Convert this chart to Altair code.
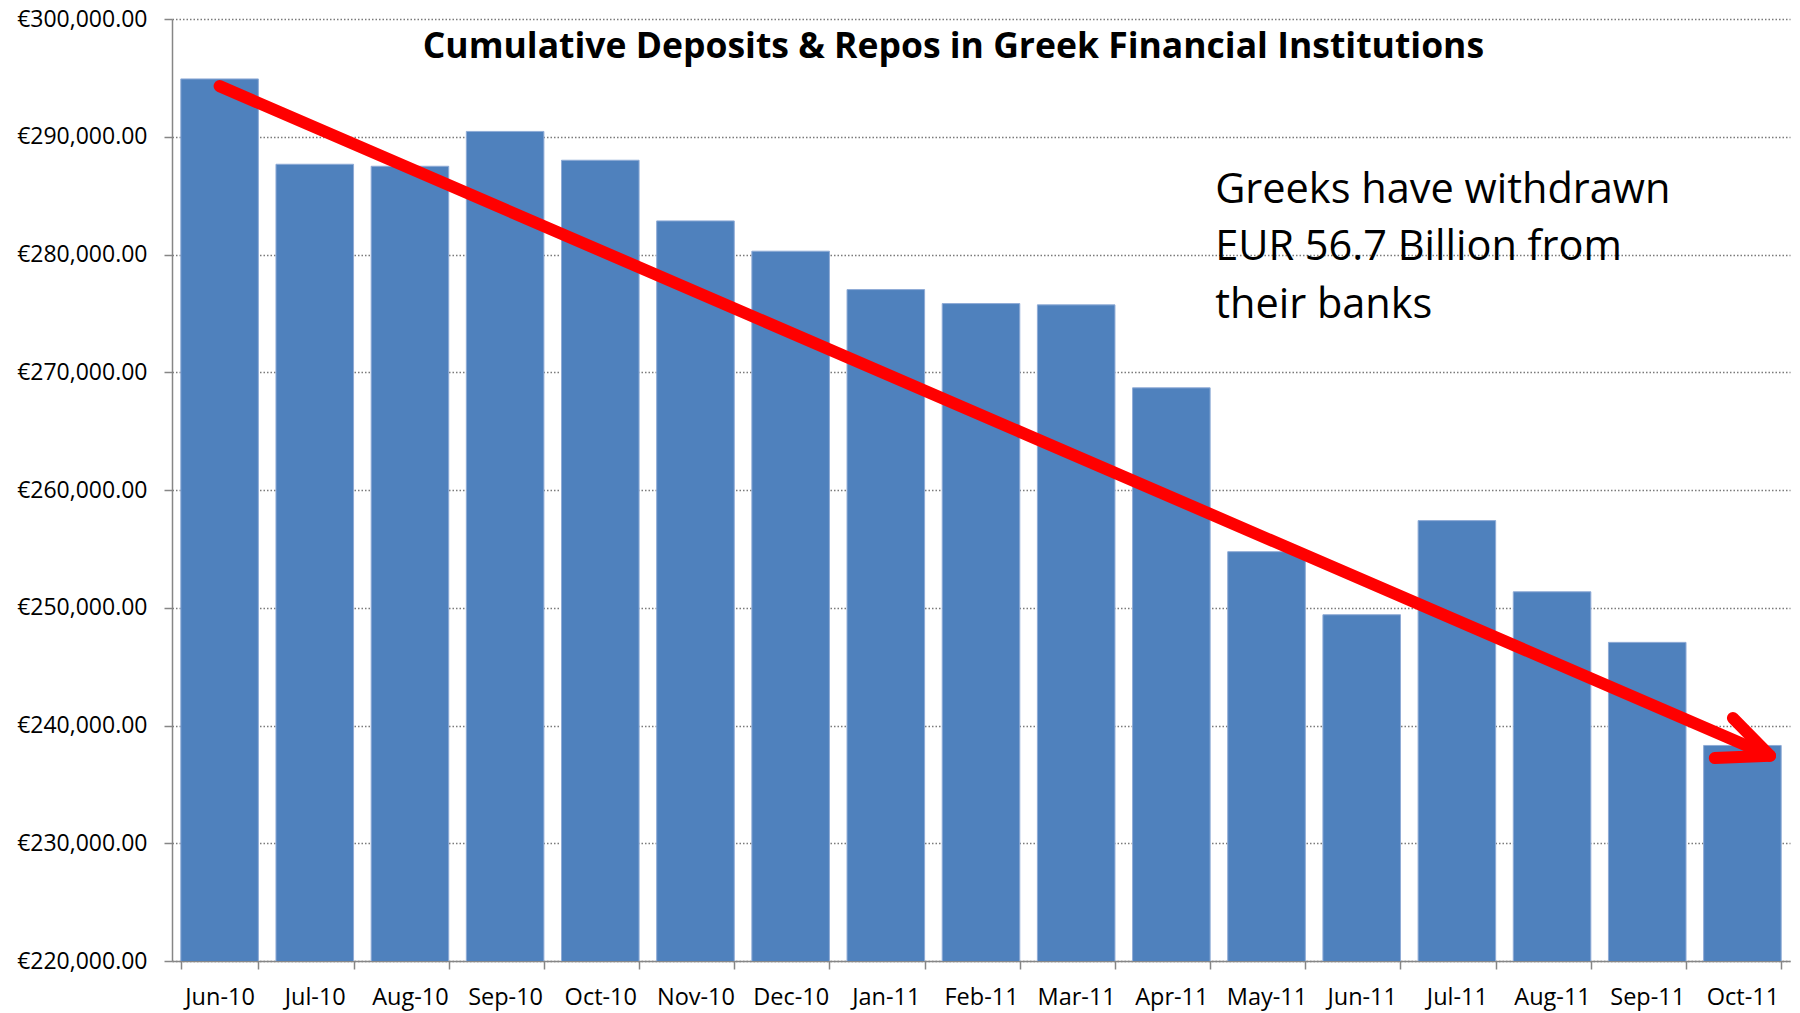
import altair as alt
import pandas as pd

# ---- data ----
months = ["Jun-10", "Jul-10", "Aug-10", "Sep-10", "Oct-10", "Nov-10", "Dec-10",
          "Jan-11", "Feb-11", "Mar-11", "Apr-11", "May-11", "Jun-11", "Jul-11",
          "Aug-11", "Sep-11", "Oct-11"]
deposits = [294910, 287664, 287494, 290452, 288005, 282852, 280280,
            277020, 275832, 275722, 268676, 254762, 249406, 257400,
            251356, 247060, 238305]
y_ticks = [220000, 230000, 240000, 250000, 260000, 270000, 280000, 290000, 300000]

title_text = "Cumulative Deposits & Repos in Greek Financial Institutions"
note_lines = ["Greeks have withdrawn", "EUR 56.7 Billion from", "their banks"]

# arrow annotation (in bar-slot units along x, euro values along y)
arrow_seg = ["shaft", "shaft", "head", "head", "head"]
arrow_ord = [0, 1, 0, 1, 2]
arrow_x = [0.5, 16.79, 16.21, 16.79, 16.40]
arrow_y = [294300, 237430, 237240, 237430, 240640]

# text anchors (bar-slot units, euro values)
note_x, note_y = [10.96], [284380]
title_x, title_y = [8.21], [296690]

FONT = "Open Sans"
W, H = 1618, 942

bars_df = pd.DataFrame({"month": months, "value": deposits})
arrow_df = pd.DataFrame({"seg": arrow_seg, "ord": arrow_ord, "x": arrow_x, "y": arrow_y})
note_df = pd.DataFrame({"x": note_x, "y": note_y, "txt": [note_lines]})
title_df = pd.DataFrame({"x": title_x, "y": title_y, "txt": [title_text]})

yscale = alt.Scale(domain=[220000, 300000], zero=False, nice=False)
xq = alt.Scale(domain=[0, 17], nice=False, zero=False)

bars = alt.Chart(bars_df).mark_bar(
    color="#4F81BD", stroke="#8FABD6", strokeWidth=1, clip=True
).encode(
    x=alt.X("month:N", sort=months,
            scale=alt.Scale(paddingInner=0.185, paddingOuter=0.0925),
            axis=alt.Axis(title=None, labelAngle=0, labelFont=FONT, labelFontSize=23.5,
                          labelColor="#000000", labelBaseline="alphabetic",
                          labelPadding=35, tickBand="extent", tickSize=8,
                          tickColor="#868686", tickWidth=1.5, domainColor="#868686",
                          domainWidth=1.5, grid=False)),
    y=alt.Y("value:Q", scale=yscale,
            axis=alt.Axis(title=None, values=y_ticks,
                          labelExpr='"€" + format(datum.value, ",.2f")',
                          labelFont=FONT, labelFontSize=23, labelColor="#000000",
                          labelPadding=17, tickSize=8, tickColor="#868686",
                          tickWidth=1.5, domainColor="#868686", domainWidth=1.5,
                          grid=True, gridColor="#7a7a7a", gridDash=[1.5, 2],
                          gridWidth=1.3)),
)

arrow = alt.Chart(arrow_df).mark_line(
    color="#FF0000", strokeWidth=12, strokeCap="round", strokeJoin="round"
).encode(
    x=alt.X("x:Q", scale=xq, axis=None),
    y=alt.Y("y:Q", scale=yscale),
    detail="seg:N",
    order="ord:Q",
)

note = alt.Chart(note_df).mark_text(
    align="left", baseline="alphabetic", font=FONT, fontSize=41.5,
    lineHeight=57.5, color="#000000"
).encode(
    x=alt.X("x:Q", scale=xq, axis=None),
    y=alt.Y("y:Q", scale=yscale),
    text="txt",
)

title = alt.Chart(title_df).mark_text(
    align="center", baseline="alphabetic", font=FONT, fontSize=35.5,
    fontWeight="bold", color="#000000"
).encode(
    x=alt.X("x:Q", scale=xq, axis=None),
    y=alt.Y("y:Q", scale=yscale),
    text="txt:N",
)

chart = alt.layer(bars, arrow, note, title).resolve_scale(x="independent").properties(
    width=W, height=H,
    autosize=alt.AutoSizeParams(type="none"),
    padding={"left": 164, "top": 11, "right": 2, "bottom": 60},
).configure_view(strokeWidth=0)

chart.save("out.html", embed_options={"renderer": "svg", "actions": False})
